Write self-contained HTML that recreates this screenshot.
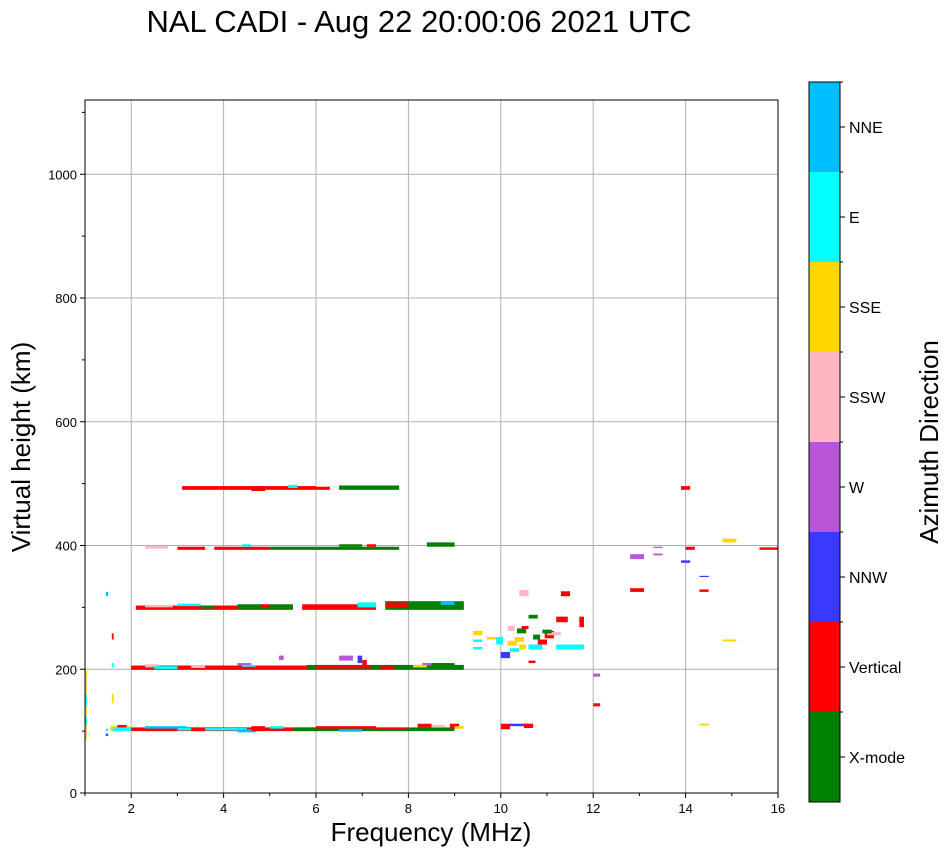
<!DOCTYPE html>
<html><head><meta charset="utf-8"><style>
body{margin:0;background:#fff;font-family:"Liberation Sans",sans-serif}
svg text{font-family:"Liberation Sans",sans-serif}
</style></head><body>
<svg id="c" width="951" height="856" xmlns="http://www.w3.org/2000/svg">
<text x="419" y="32" font-size="31" text-anchor="middle">NAL CADI - Aug 22 20:00:06 2021 UTC</text>
<g id="grid"></g>
<g id="marks"></g>
<rect x="85" y="100" width="693" height="693" fill="none" stroke="#000" stroke-width="1"/>
<g id="axes"></g>
<text x="431" y="841" font-size="26" text-anchor="middle">Frequency (MHz)</text>
<text transform="translate(30,447) rotate(-90)" font-size="26" text-anchor="middle">Virtual height (km)</text>
<g id="cbar"></g>
<text transform="translate(938,442) rotate(-90)" font-size="26" text-anchor="middle">Azimuth Direction</text>
</svg>
<script>
const categories=["X-mode","Vertical","NNW","W","SSW","SSE","E","NNE"];
const colors=["#008000","#ff0000","#3a3aff","#b856d7","#ffb6c1","#ffd700","#00ffff","#00bfff"];
const xTicks=[2,4,6,8,10,12,14,16];
const yTicks=[0,200,400,600,800,1000];
// segments: [fStart, fEnd, hLow, hHigh, category]
const segments=[
[1.0,1.04,85,200,5],[1.0,1.04,110,125,6],[1.0,1.04,140,160,6],[1.0,1.04,175,185,4],[1.0,1.04,95,102,4],
[1.45,1.5,100,104,6],[1.45,1.5,92,96,2],[1.58,1.62,145,160,5],[1.58,1.62,248,258,1],[1.45,1.5,318,325,7],[1.58,1.62,203,210,6],
[1.55,2.0,100,108,5],[1.7,1.9,103,110,1],[1.6,2.1,100,106,6],
[2.0,6.0,100,106,1],[2.3,3.2,104,108,7],[3.0,4.5,101,105,6],[4.3,4.7,98,103,7],[5.0,5.3,104,108,6],[3.3,3.6,100,106,1],[4.6,4.9,100,108,1],
[5.5,9.0,100,106,0],[6.0,7.3,104,108,1],[6.5,7.0,99,103,7],[7.2,8.0,103,106,1],[8.2,8.5,106,112,1],[8.9,9.1,104,112,1],[8.5,8.8,107,110,4],[9.0,9.2,104,108,5],
[2.0,6.0,199,206,1],[2.3,2.6,203,208,4],[2.5,3.0,200,205,6],[3.3,3.6,202,207,4],[4.3,4.6,206,210,3],[4.4,4.7,204,207,6],
[5.8,9.2,199,207,0],[6.0,7.2,201,206,1],[7.4,7.7,200,205,1],[8.3,8.9,206,210,3],[8.1,8.4,203,207,5],[8.5,9.0,206,210,0],
[5.2,5.3,215,222,3],[6.5,6.8,214,222,3],[6.9,7.0,210,222,2],[7.0,7.1,205,215,1],
[2.1,5.5,296,303,1],[2.3,2.9,300,304,4],[3.0,3.5,302,306,6],[4.3,5.5,297,305,0],[3.5,3.8,298,303,0],[4.8,5.0,300,305,1],
[5.7,7.3,296,305,1],[6.9,7.3,300,308,6],[7.5,9.2,296,310,0],[7.5,8.0,300,308,1],[8.7,9.0,304,310,7],
[9.4,9.6,255,262,5],[9.4,9.6,244,248,6],[9.7,9.9,248,252,5],[9.4,9.6,232,236,6],
[9.9,10.05,240,252,6],[10.0,10.2,218,228,2],[10.15,10.35,238,246,5],[10.3,10.5,244,252,5],[10.2,10.4,228,234,6],[10.4,10.55,232,240,5],[10.6,10.9,232,240,6],[10.7,10.85,248,256,0],[10.35,10.55,258,266,0],
[10.4,10.6,318,328,4],[10.6,10.8,282,288,0],[10.8,11.0,240,248,1],[10.95,11.15,250,262,1],[11.0,11.3,255,260,4],[11.2,11.45,276,285,1],[11.2,11.8,232,240,6],[11.3,11.5,318,326,1],[11.7,11.8,268,285,1],[10.9,11.1,258,264,0],[10.45,10.6,265,270,1],[10.15,10.3,262,270,4],[10.6,10.75,210,214,1],
[12.0,12.15,188,193,3],[12.0,12.15,140,145,1],[10.0,10.2,103,112,1],[10.2,10.6,108,112,2],[10.5,10.7,105,112,1],
[3.0,3.6,393,398,1],[3.8,5.0,393,398,1],[2.3,2.8,395,399,4],[4.4,4.6,398,402,6],[5.0,7.8,393,398,0],[6.5,7.0,398,402,0],[7.1,7.3,398,402,1],[8.4,9.0,398,405,0],
[3.1,6.0,490,496,1],[4.6,4.9,488,496,1],[5.4,5.6,493,498,6],[6.5,7.8,490,497,0],[6.0,6.3,490,495,1],
[12.8,13.1,378,386,3],[12.8,13.1,325,331,1],[13.3,13.5,384,387,3],[13.3,13.5,396,398,3],[13.9,14.1,372,376,2],[13.9,14.1,490,496,1],[14.0,14.2,393,398,1],
[14.3,14.5,349,351,2],[14.3,14.5,325,329,1],[14.8,15.1,405,411,5],[14.8,15.1,245,248,5],[14.3,14.5,109,112,5],[15.6,16.0,393,397,1]
];
const NS="http://www.w3.org/2000/svg";
const X0=85,X1=778,Y0=793,Y1=100;
const xs=f=>X0+(f-1)*(X1-X0)/15;
const ys=h=>Y0-h*(Y0-Y1)/1120;
function mk(t,a,p){const e=document.createElementNS(NS,t);for(const k in a)e.setAttribute(k,a[k]);p.appendChild(e);return e;}
const grid=document.getElementById('grid'),axes=document.getElementById('axes'),marks=document.getElementById('marks'),cbar=document.getElementById('cbar');
xTicks.forEach(v=>{const x=xs(v);
 const g=mk('line',{x1:x,x2:x,y1:Y1,y2:Y0,stroke:'#b0b0b0','stroke-width':1},grid);
 
 mk('line',{x1:x,x2:x,y1:Y0,y2:Y0+5,stroke:'#000'},axes);
 const t=mk('text',{x:x,y:Y0+20,'font-size':13,'text-anchor':'middle'},axes);t.textContent=v;
 });
for(let v=1;v<16;v+=1){if(v%2)mk('line',{x1:xs(v),x2:xs(v),y1:Y0,y2:Y0+3,stroke:'#000'},axes);}
yTicks.forEach(v=>{const y=ys(v);
 if(v>0){const g=mk('line',{x1:X0,x2:X1,y1:y,y2:y,stroke:'#b0b0b0','stroke-width':1},grid);
 }
 mk('line',{x1:X0-5,x2:X0,y1:y,y2:y,stroke:'#000'},axes);
 const t=mk('text',{x:X0-8,y:y+5,'font-size':13,'text-anchor':'end'},axes);t.textContent=v;
 });
for(let v=100;v<1120;v+=200)mk('line',{x1:X0-3,x2:X0,y1:ys(v),y2:ys(v),stroke:'#000'},axes);
segments.forEach(s=>{
 const r=mk('rect',{x:xs(s[0]),y:ys(s[3]),width:Math.max(1,xs(s[1])-xs(s[0])),height:Math.max(1,ys(s[2])-ys(s[3])),fill:colors[s[4]]},marks);
 
 });
const CB0=802,CBH=90;
categories.forEach((c,i)=>{const y=CB0-(i+1)*CBH;
 const r=mk('rect',{x:809,y:y,width:31,height:CBH,fill:colors[i]},cbar);
 
 mk('line',{x1:840,x2:845,y1:y+CBH/2,y2:y+CBH/2,stroke:'#000'},cbar);
 mk('line',{x1:840,x2:843,y1:y,y2:y,stroke:'#000'},cbar);
 const t=mk('text',{x:849,y:y+CBH/2+6,'font-size':16},cbar);t.textContent=c;
 });
mk('rect',{x:809,y:82,width:31,height:720,fill:'none',stroke:'#000'},cbar);
</script>
</body></html>
